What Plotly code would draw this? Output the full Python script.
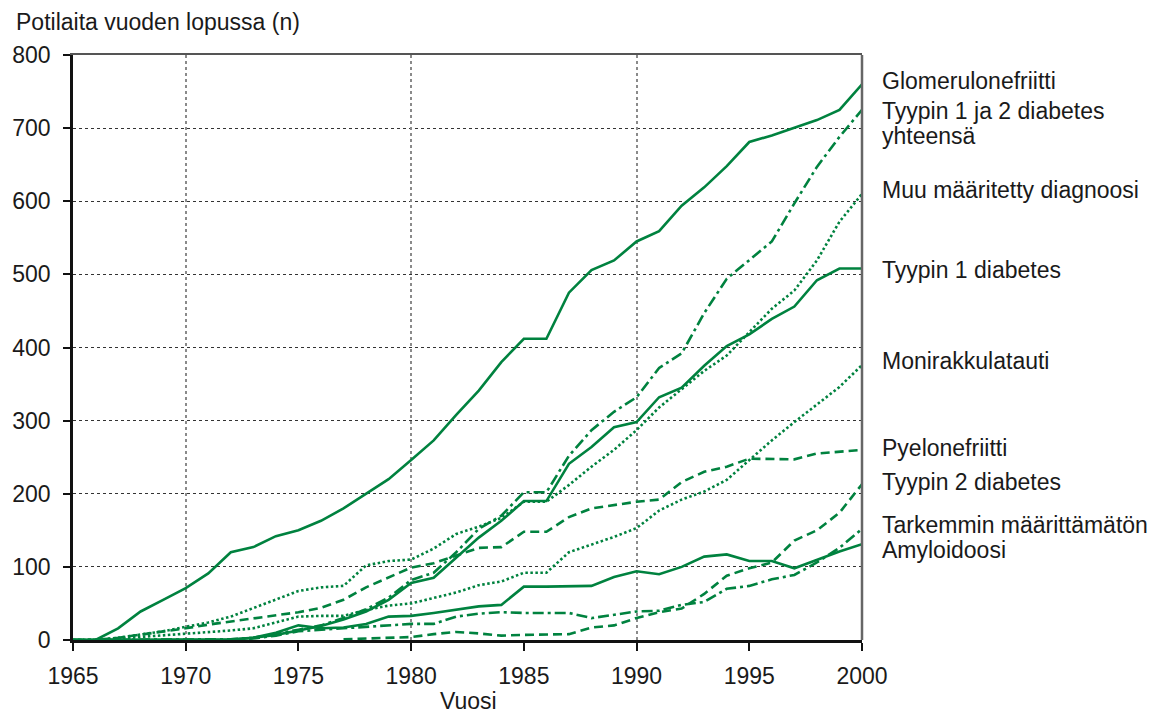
import plotly.graph_objects as go

years = list(range(1965, 2001))

glomerulonefriitti = [0, 0, 16, 39, 55, 71, 91, 120, 127, 142, 150, 163, 180, 200, 220, 246, 273, 308,
                      341, 380, 412, 412, 475, 506, 519, 545, 559, 594, 619, 648, 681, 690, 701, 711, 725, 760]
tyypin_1_ja_2 = [0, 0, 0, 0, 0, 0, 0, 1, 3, 8, 14, 20, 30, 42, 58, 82, 92, 120,
                 152, 170, 202, 202, 252, 287, 312, 332, 372, 392, 447, 494, 519, 545, 597, 647, 688, 725]
muu_maaritetty = [0, 0, 3, 7, 12, 18, 24, 32, 44, 56, 67, 72, 74, 102, 108, 110, 125, 145,
                  155, 167, 189, 189, 212, 237, 260, 287, 318, 343, 368, 389, 421, 453, 478, 519, 572, 610]
tyypin_1 = [0, 0, 0, 0, 0, 0, 0, 1, 3, 7, 13, 19, 28, 39, 55, 78, 85, 112,
            140, 163, 190, 190, 241, 264, 291, 298, 332, 345, 375, 402, 418, 439, 456, 492, 508, 508]
monirakkulatauti = [0, 0, 2, 4, 6, 9, 11, 13, 16, 24, 32, 33, 33, 41, 47, 50, 57, 65,
                    75, 80, 92, 92, 120, 130, 141, 153, 177, 192, 203, 219, 246, 273, 298, 322, 346, 376]
pyelonefriitti = [0, 0, 3, 7, 11, 16, 21, 25, 29, 33, 38, 44, 55, 72, 86, 99, 105, 116,
                  126, 127, 148, 148, 168, 180, 185, 189, 192, 216, 230, 237, 248, 248, 247, 255, 257, 260]
tyypin_2 = [None] * 12 + [1, 2, 3, 4, 8, 11, 9, 6, 7, 7, 8, 17, 20, 30, 38, 43, 63, 88, 98, 106, 136, 150, 174, 213]
tarkemmin = [0, 0, 0, 0, 0, 0, 0, 0, 2, 6, 12, 14, 15, 17, 20, 22, 22, 32,
             36, 38, 37, 37, 37, 30, 34, 39, 40, 48, 52, 70, 74, 83, 89, 106, 126, 152]
amyloidoosi = [0, 0, 0, 0, 0, 0, 0, 0, 3, 10, 20, 16, 17, 22, 32, 33, 37, 41,
               46, 48, 73, 73, 73, 74, 86, 94, 90, 100, 114, 117, 108, 108, 98, 110, 121, 131]

series_names = ["Glomerulonefriitti", "Tyypin 1 ja 2 diabetes yhteensä", "Muu määritetty diagnoosi",
                "Tyypin 1 diabetes", "Monirakkulatauti", "Pyelonefriitti", "Tyypin 2 diabetes",
                "Tarkemmin määrittämätön", "Amyloidoosi"]
series_values = [glomerulonefriitti, tyypin_1_ja_2, muu_maaritetty, tyypin_1, monirakkulatauti,
                 pyelonefriitti, tyypin_2, tarkemmin, amyloidoosi]
series_dash = ["solid", "11px,4px,3px,4px", "2.5px,2.5px", "solid", "2.5px,2.5px",
               "9px,5px", "9px,5px", "11px,4px,3px,4px", "solid"]

# right-hand label texts and their vertical positions (axis units)
label_texts = ["Glomerulonefriitti", "Tyypin 1 ja 2 diabetes", "yhteensä", "Muu määritetty diagnoosi",
               "Tyypin 1 diabetes", "Monirakkulatauti", "Pyelonefriitti", "Tyypin 2 diabetes",
               "Tarkemmin määrittämätön", "Amyloidoosi"]
label_y = [765, 724, 689, 616, 506, 381, 262, 216, 157, 123]

y_ticks = [0, 100, 200, 300, 400, 500, 600, 700, 800]
x_ticks = [1965, 1970, 1975, 1980, 1985, 1990, 1995, 2000]

GREEN = "#00823f"
FONT = "Liberation Sans, Arial, sans-serif"
TXT = "#1a1a1a"
FS = 23

fig = go.Figure()
for name, vals, dash in zip(series_names, series_values, series_dash):
    fig.add_trace(go.Scatter(x=years, y=vals, mode="lines", name=name,
                             line=dict(color=GREEN, width=2.6, dash=dash),
                             connectgaps=False, showlegend=False))

# invisible trace carrying the overlaid axis used for vertical grid / top frame
fig.add_trace(go.Scatter(x=years[:1], y=glomerulonefriitti[:1], xaxis="x2", mode="markers",
                         marker=dict(opacity=0), showlegend=False, hoverinfo="skip"))

annotations = []
for txt, ly in zip(label_texts, label_y):
    annotations.append(dict(x=1.0227, xref="paper", y=ly, yref="y", text=txt,
                            showarrow=False, xanchor="left", yanchor="middle", align="left",
                            font=dict(family=FONT, size=FS, color=TXT)))
annotations.append(dict(x=-0.075, xref="paper", y=1.0564, yref="paper",
                        text="Potilaita vuoden lopussa (n)", showarrow=False,
                        xanchor="left", yanchor="middle", font=dict(family=FONT, size=FS, color=TXT)))
annotations.append(dict(x=0.501, xref="paper", y=-0.1043, yref="paper", text="Vuosi",
                        showarrow=False, xanchor="center", yanchor="middle",
                        font=dict(family=FONT, size=FS, color=TXT)))

fig.update_layout(
    width=1157, height=713,
    margin=dict(l=68, r=295, t=55, b=73),
    paper_bgcolor="white", plot_bgcolor="white",
    font=dict(family=FONT, size=FS, color=TXT),
    xaxis=dict(range=[1965, 2000], tickvals=x_ticks, ticks="outside", ticklen=8, tickwidth=2,
               tickcolor="#111", showline=True, linecolor="#111", linewidth=2.5,
               showgrid=False, zeroline=False, ticklabelstandoff=6,
               tickfont=dict(size=FS, color=TXT, family=FONT)),
    xaxis2=dict(overlaying="x", matches="x", side="top", anchor="y", range=[1965, 2000],
                tick0=1970, dtick=10, showgrid=True, gridcolor="#8a8a8a", griddash="3px,3px",
                gridwidth=2, showticklabels=False, ticks="", showline=True, linecolor="#555",
                linewidth=2, zeroline=False),
    yaxis=dict(range=[0, 800], tickvals=y_ticks, ticks="outside", ticklen=7, tickwidth=2,
               tickcolor="#111", showline=True, linecolor="#111", linewidth=2.5,
               showgrid=True, gridcolor="#333", griddash="3px,3px", gridwidth=1.2,
               zeroline=False, ticklabelstandoff=8,
               tickfont=dict(size=FS, color=TXT, family=FONT)),
    annotations=annotations,
    shapes=[dict(type="line", xref="paper", yref="paper", x0=1, x1=1, y0=0, y1=1,
                 line=dict(color="#666", width=2.5))],
)

fig.write_html("out.html", config={"displayModeBar": False})

# remove the default page margin so the figure sits at the window's top-left corner
with open("out.html", "r", encoding="utf-8") as f:
    html = f.read()
html = html.replace("<body>", '<body style="margin:0;overflow:hidden">', 1)
with open("out.html", "w", encoding="utf-8") as f:
    f.write(html)
